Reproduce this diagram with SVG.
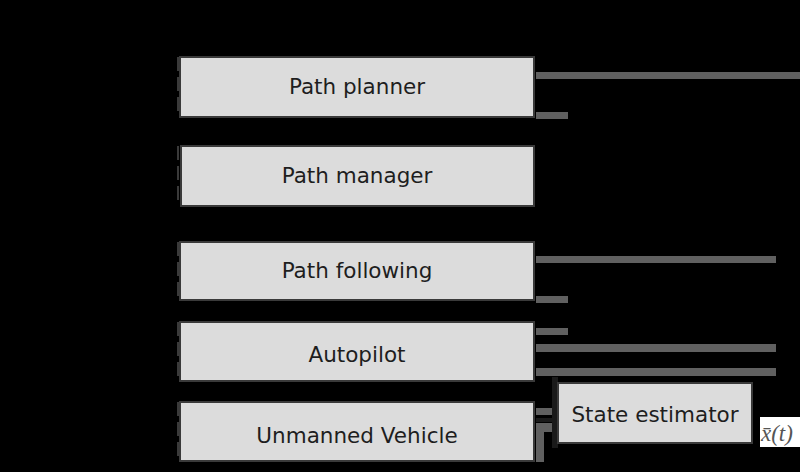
<svg xmlns="http://www.w3.org/2000/svg" width="800" height="472" viewBox="0 0 800 472">
<style>
.box{fill:#dcdcdc;stroke:#3a3a3a;stroke-width:2}
.lbl{font-family:"DejaVu Sans",Verdana,sans-serif;font-size:21.5px;fill:#1e1e1e;text-anchor:middle}
.edge{stroke:#3a3a3a;stroke-width:2;stroke-dasharray:14 6}
.g{fill:#606060}
</style>
<rect x="0" y="0" width="800" height="472" fill="#000"/>
<g id="connectors">
<rect class="g" x="536" y="72" width="264" height="7"/>
<rect class="g" x="536" y="112" width="32" height="7"/>
<rect class="g" x="536" y="256" width="240" height="7"/>
<rect class="g" x="536" y="296" width="32" height="7"/>
<rect class="g" x="536" y="328" width="32" height="7"/>
<rect class="g" x="536" y="344" width="240" height="8"/>
<rect class="g" x="536" y="368" width="240" height="8"/>
<rect class="g" x="536" y="408" width="16" height="7"/>
<rect class="g" x="536" y="423" width="8" height="39"/>
<rect class="g" x="544" y="423" width="8" height="9"/>
<rect x="536" y="418" width="22" height="4" fill="#1a1a1a"/>
<rect x="552" y="377" width="6" height="71" fill="#1a1a1a"/>
</g>
<g id="path-planner">
<rect class="box" x="180" y="57" width="354" height="60"/>
<line class="edge" x1="178" y1="57" x2="178" y2="117"/>
<text class="lbl" x="357" y="94">Path planner</text>
</g>
<g id="path-manager">
<rect class="box" x="181" y="146" width="353" height="60"/>
<line class="edge" x1="178" y1="146" x2="178" y2="206"/>
<text class="lbl" x="357" y="183">Path manager</text>
</g>
<g id="path-following">
<rect class="box" x="180" y="242" width="354" height="58"/>
<line class="edge" x1="178" y1="242" x2="178" y2="300"/>
<text class="lbl" x="357" y="278">Path following</text>
</g>
<g id="autopilot">
<rect class="box" x="180" y="322" width="354" height="59"/>
<line class="edge" x1="178" y1="322" x2="178" y2="381"/>
<text class="lbl" x="357" y="362">Autopilot</text>
</g>
<g id="unmanned-vehicle">
<rect class="box" x="180" y="402" width="354" height="59"/>
<line class="edge" x1="178" y1="402" x2="178" y2="461"/>
<text class="lbl" x="357" y="443">Unmanned Vehicle</text>
</g>
<g id="state-estimator">
<rect class="box" x="558" y="383" width="194" height="60"/>
<text class="lbl" x="655" y="422">State estimator</text>
</g>
<g id="xbar-label">
<rect x="760" y="417" width="40" height="30" fill="#fff"/>
<text x="761" y="441" font-family="'Liberation Serif','DejaVu Serif',serif" font-size="23" font-style="italic" fill="#555">x̄(t)</text>
</g>
</svg>
